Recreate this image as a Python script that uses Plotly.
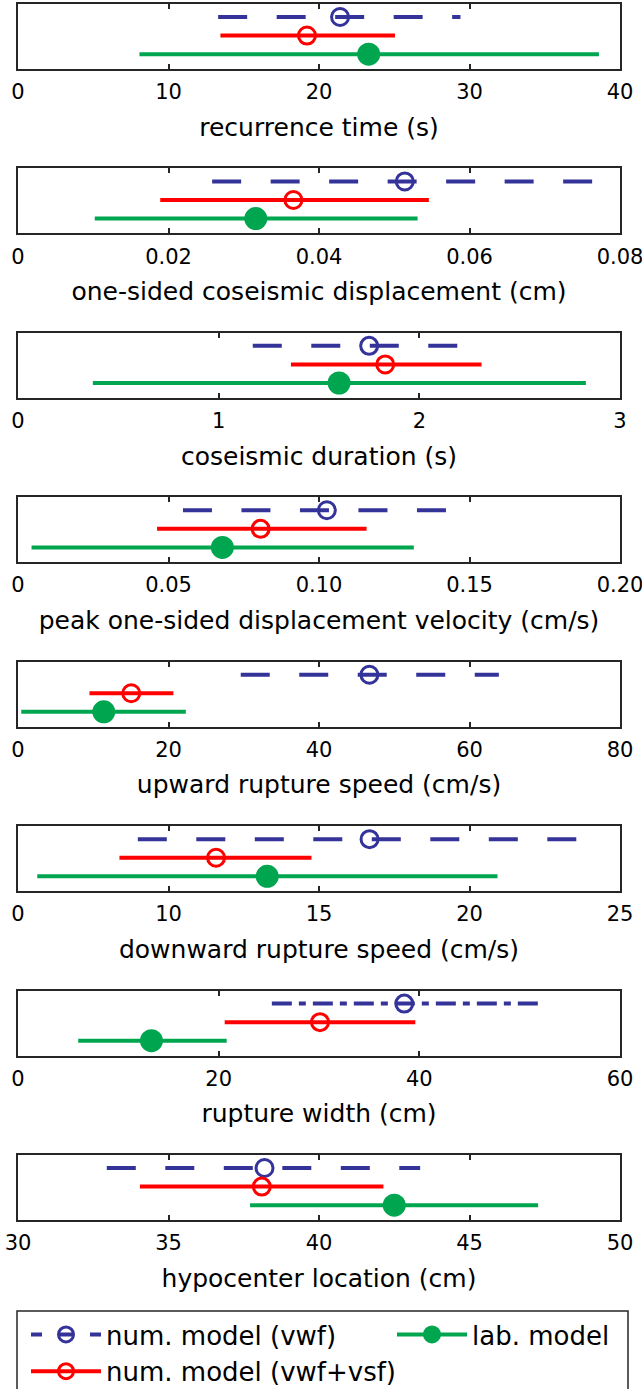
import plotly.graph_objects as go

# Quantity names (x-axis titles), one panel each
quantities = [
    "recurrence time (s)",
    "one-sided coseismic displacement (cm)",
    "coseismic duration (s)",
    "peak one-sided displacement velocity (cm/s)",
    "upward rupture speed (cm/s)",
    "downward rupture speed (cm/s)",
    "rupture width (cm)",
    "hypocenter location (cm)",
]

# num. model (vwf): mean and range
vwf_mean = [21.4, 0.0514, 1.75, 0.1026, 46.7, 16.68, 38.5, 38.19]
vwf_low = [13.3, 0.0258, 1.17, 0.0548, 29.6, 8.98, 25.3, 32.95]
vwf_high = [29.4, 0.0772, 2.32, 0.149, 63.9, 24.38, 52.5, 43.36]

# num. model (vwf+vsf): mean and range
vsf_mean = [19.2, 0.0366, 1.83, 0.0806, 15.05, 11.58, 30.1, 38.1]
vsf_low = [13.45, 0.0189, 1.36, 0.0462, 9.5, 8.37, 20.6, 34.05]
vsf_high = [25.05, 0.0546, 2.31, 0.1158, 20.65, 14.75, 39.6, 42.14]

# lab. model: mean and range
lab_mean = [23.3, 0.0316, 1.60, 0.0679, 11.4, 13.28, 13.3, 42.5]
lab_low = [8.07, 0.0102, 0.373, 0.0045, 0.43, 5.64, 6.0, 37.71]
lab_high = [38.6, 0.0531, 2.83, 0.1315, 22.3, 20.93, 20.8, 47.28]

# Axis limits and tick labels per panel
x_ranges = [[0, 40], [0, 0.08], [0, 3], [0, 0.2], [0, 80], [5, 25], [0, 60], [30, 50]]
tick_vals = [
    [0, 10, 20, 30, 40],
    [0, 0.02, 0.04, 0.06, 0.08],
    [0, 1, 2, 3],
    [0, 0.05, 0.10, 0.15, 0.20],
    [0, 20, 40, 60, 80],
    [5, 10, 15, 20, 25],
    [0, 20, 40, 60],
    [30, 35, 40, 45, 50],
]
tick_text = [
    ["0", "10", "20", "30", "40"],
    ["0", "0.02", "0.04", "0.06", "0.08"],
    ["0", "1", "2", "3"],
    ["0", "0.05", "0.10", "0.15", "0.20"],
    ["0", "20", "40", "60", "80"],
    ["0", "10", "15", "20", "25"],
    ["0", "20", "40", "60"],
    ["30", "35", "40", "45", "50"],
]

BLUE = "#333399"
RED = "#ff0000"
GREEN = "#00a64f"
FRAME = "#262626"
FONT = "DejaVu Sans"

W, H = 642, 1389
ML, MR = 18, 22
PANEL_TOP0 = 4.0
PANEL_PITCH = 164.43
PANEL_H = 65.0

fig = go.Figure()

series = [
    # name, mean, low, high, row, colour, dash, marker symbol, marker size
    ("num. model (vwf)", vwf_mean, vwf_low, vwf_high, 3, BLUE, "29px,29.5px", "circle-open", 17),
    ("num. model (vwf+vsf)", vsf_mean, vsf_low, vsf_high, 2, RED, "solid", "circle-open", 17),
    ("lab. model", lab_mean, lab_low, lab_high, 1, GREEN, "solid", "circle", 20),
]

for i in range(len(quantities)):
    xa = "x" if i == 0 else f"x{i + 1}"
    ya = "y" if i == 0 else f"y{i + 1}"
    for name, mean, low, high, row, col, dash, sym, msize in series:
        d = dash
        if name == "num. model (vwf)" and i == 6:
            d = "20px,7px,7px,7px"
        fig.add_trace(go.Scatter(
            x=[low[i], high[i]], y=[row, row], mode="lines",
            line=dict(color=col, width=4, dash=d),
            xaxis=xa, yaxis=ya, showlegend=False, hoverinfo="skip",
        ))
        fig.add_trace(go.Scatter(
            x=[mean[i]], y=[row], mode="markers",
            marker=dict(symbol=sym, size=msize, color=col,
                        line=dict(color=col, width=3)),
            xaxis=xa, yaxis=ya, showlegend=False,
        ))

    top = PANEL_TOP0 + PANEL_PITCH * i
    dom = [1 - (top + PANEL_H) / H, 1 - top / H]
    lo, hi = x_ranges[i]
    pad = (hi - lo) * 1e-7
    xkey = "xaxis" if i == 0 else f"xaxis{i + 1}"
    ykey = "yaxis" if i == 0 else f"yaxis{i + 1}"
    fig.update_layout({
        xkey: dict(
            domain=[0, 1], anchor=ya, range=[lo - pad, hi + pad],
            tickvals=tick_vals[i], ticktext=tick_text[i],
            ticks="inside", ticklen=5, tickwidth=1.5, tickcolor=FRAME,
            showline=True, linecolor=FRAME, linewidth=2, mirror="ticks",
            showgrid=False, zeroline=False, ticklabelstandoff=3,
            ticklabeloverflow="allow",
            tickfont=dict(family=FONT, size=21, color="black"),
            title=dict(text=quantities[i], standoff=15,
                       font=dict(family=FONT, size=25, color="black")),
        ),
        ykey: dict(
            domain=dom, anchor=xa, range=[0.2, 3.7],
            showticklabels=False, ticks="", showgrid=False, zeroline=False,
            showline=True, linecolor=FRAME, linewidth=2, mirror=True,
        ),
    })

# Legend entries (symbols only, no data)
legend_entries = [
    ("num. model (vwf)", BLUE, "11px,18px,12px,18px,11px", "circle-open", 15, "legend"),
    ("num. model (vwf+vsf)", RED, "solid", "circle-open", 15, "legend"),
    ("lab. model", GREEN, "solid", "circle", 15, "legend2"),
]
for name, col, dash, sym, msize, leg in legend_entries:
    fig.add_trace(go.Scatter(
        x=[None], y=[None], mode="lines+markers", name=name,
        line=dict(color=col, width=4, dash=dash),
        marker=dict(symbol=sym, size=msize, color=col, line=dict(color=col, width=3)),
        showlegend=True, legend=leg,
    ))

plot_w = W - ML - MR
fig.add_shape(
    type="rect", xref="paper", yref="paper",
    x0=(17 - ML) / plot_w, x1=(628 - ML) / plot_w,
    y0=-0.05, y1=1 - 1311 / H,
    line=dict(color=FRAME, width=1.5), fillcolor="rgba(0,0,0,0)",
)

legend_style = dict(
    orientation="v", xanchor="left", yanchor="top",
    itemwidth=70, tracegroupgap=0,
    font=dict(family=FONT, size=26, color="black"),
    bgcolor="rgba(0,0,0,0)", borderwidth=0,
)

fig.update_layout(
    width=W, height=H,
    margin=dict(l=ML, r=MR, t=0, b=0, autoexpand=False),
    paper_bgcolor="white", plot_bgcolor="white",
    font=dict(family=FONT, color="black"),
    legend=dict(legend_style, x=(26 - ML) / plot_w, y=1 - 1311 / H),
    legend2=dict(legend_style, x=(392 - ML) / plot_w, y=1 - 1311 / H),
    showlegend=True,
)

fig.write_html("out.html")
